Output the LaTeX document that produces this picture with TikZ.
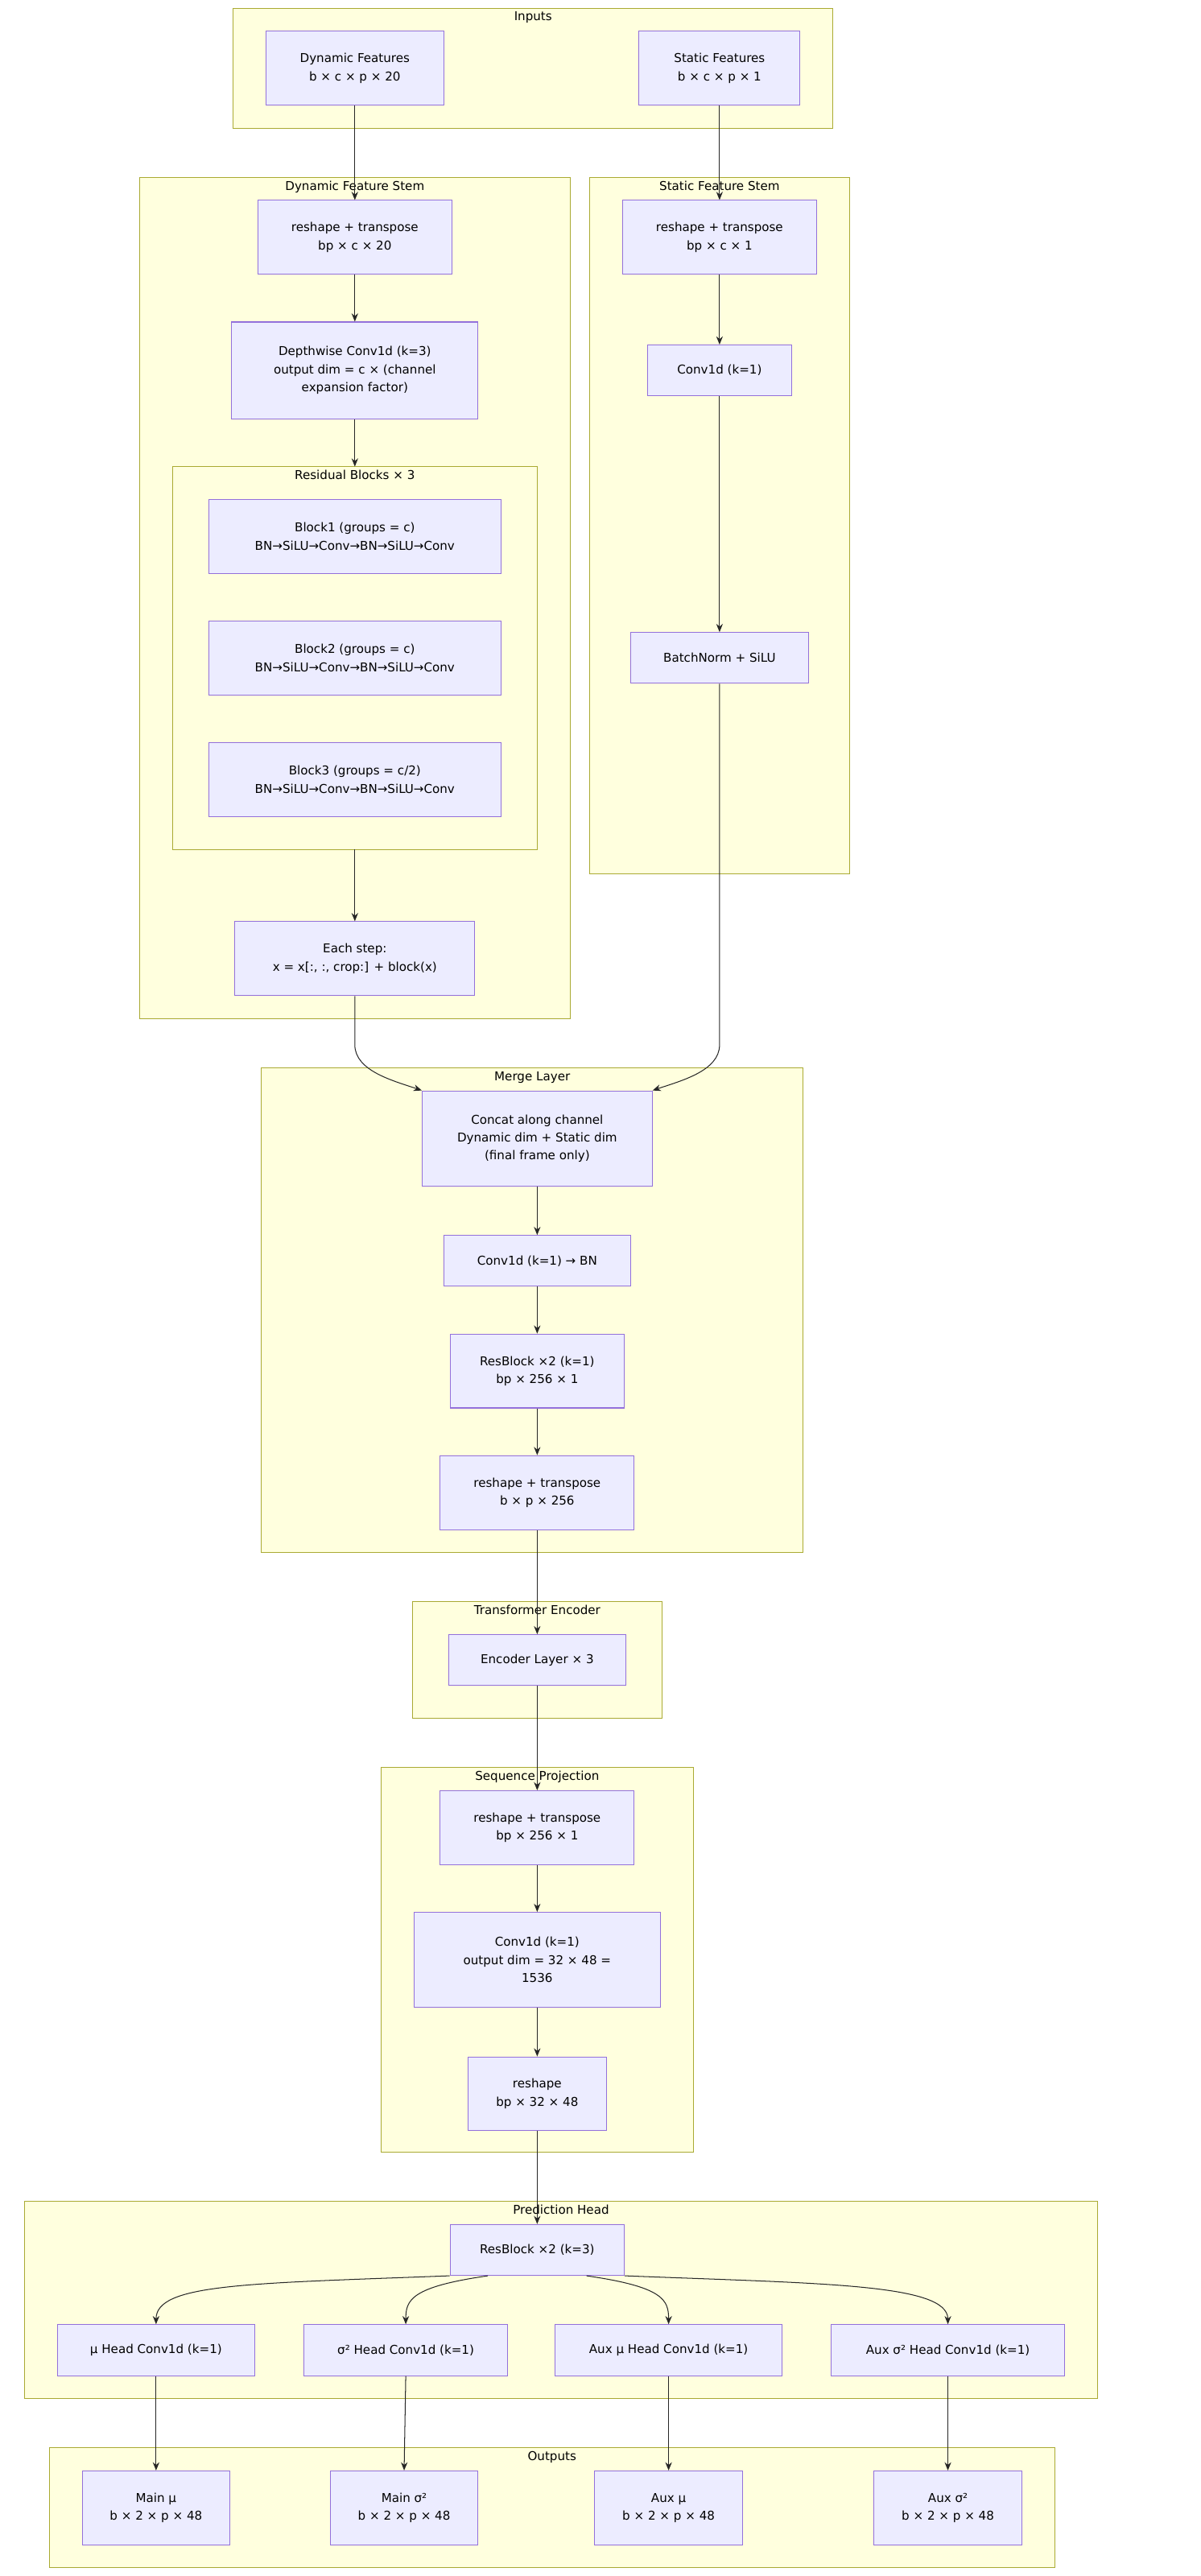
\documentclass[tikz,border=0pt]{standalone}
\usepackage{fontspec}
\setmainfont{DejaVu Sans}
\usetikzlibrary{arrows.meta}
\definecolor{nf}{HTML}{ECECFF}\definecolor{nd}{HTML}{9370DB}
\definecolor{cf}{HTML}{FFFFDE}\definecolor{cd}{HTML}{AAAA33}
\begin{document}
\begin{tikzpicture}[x=1pt,y=-1pt,font=\fontsize{7.4}{11}\selectfont,
 box/.style={draw=nd,fill=nf,line width=0.5pt,align=center,inner sep=2pt,minimum height=31pt},
 clu/.style={draw=cd,fill=cf,line width=0.5pt},
 ctitle/.style={inner sep=0pt,anchor=north},
 ar/.style={-{Stealth[length=5pt,width=4pt]},line width=0.5pt,draw=black!85}]
\useasboundingbox (0,0) rectangle (730.7,1568);
% clusters
\newcommand{\clus}[6]{\draw[clu] (#1,#2) rectangle (#3,#4); \node[ctitle] (#5) at ({(#1+#3)/2},#2+2) {#6};}
\clus{142}{5}{507}{78}{tin}{Inputs}
\clus{85}{108}{347}{620}{tdyn}{Dynamic Feature Stem}
\clus{105}{284}{327}{517}{tres}{Residual Blocks × 3}
\clus{359}{108}{517}{532}{tsta}{Static Feature Stem}
\clus{159}{650}{489}{945}{tmer}{Merge Layer}
\clus{251}{975}{403}{1046}{ttr}{Transformer Encoder}
\clus{232}{1076}{422}{1310}{tsp}{Sequence Projection}
\clus{15}{1340}{668}{1460}{tph}{Prediction Head}
\clus{30}{1490}{642}{1563}{tout}{Outputs}
% nodes
\node[box,minimum width=108pt,minimum height=45pt] (df) at (216,41.5) {Dynamic Features\\b × c × p × 20};
\node[box,minimum width=98pt,minimum height=45pt] (sf) at (438,41.5) {Static Features\\b × c × p × 1};
\node[box,minimum width=118pt,minimum height=45pt] (r1) at (216,144.5) {reshape + transpose\\bp × c × 20};
\node[box,minimum width=150pt,minimum height=59pt] (dw) at (216,225.5) {Depthwise Conv1d (k=3)\\output dim = c × (channel\\expansion factor)};
\node[box,minimum width=178pt,minimum height=45pt] (b1) at (216,326.5) {Block1 (groups = c)\\BN→SiLU→Conv→BN→SiLU→Conv};
\node[box,minimum width=178pt,minimum height=45pt] (b2) at (216,400.5) {Block2 (groups = c)\\BN→SiLU→Conv→BN→SiLU→Conv};
\node[box,minimum width=178pt,minimum height=45pt] (b3) at (216,474.5) {Block3 (groups = c/2)\\BN→SiLU→Conv→BN→SiLU→Conv};
\node[box,minimum width=146pt,minimum height=45pt] (es) at (216,583.5) {Each step:\\x = x[:, :, crop:] + block(x)};
\node[box,minimum width=118pt,minimum height=45pt] (r2) at (438,144.5) {reshape + transpose\\bp × c × 1};
\node[box,minimum width=88pt] (c1) at (438,225.5) {Conv1d (k=1)};
\node[box,minimum width=108pt] (bn) at (438,400.5) {BatchNorm + SiLU};
\node[box,minimum width=140pt,minimum height=58pt] (cc) at (327,693) {Concat along channel\\Dynamic dim + Static dim\\(final frame only)};
\node[box,minimum width=114pt] (cb) at (327,767.5) {Conv1d (k=1) → BN};
\node[box,minimum width=106pt,minimum height=45pt] (rb) at (327,834.5) {ResBlock ×2 (k=1)\\bp × 256 × 1};
\node[box,minimum width=118pt,minimum height=45pt] (r3) at (327,908.5) {reshape + transpose\\b × p × 256};
\node[box,minimum width=108pt] (enc) at (327,1010.5) {Encoder Layer × 3};
\node[box,minimum width=118pt,minimum height=45pt] (r4) at (327,1112.5) {reshape + transpose\\bp × 256 × 1};
\node[box,minimum width=150pt,minimum height=58pt] (cp) at (327,1193) {Conv1d (k=1)\\output dim = 32 × 48 =\\1536};
\node[box,minimum width=84pt,minimum height=45pt] (r5) at (327,1274.5) {reshape\\bp × 32 × 48};
\node[box,minimum width=106pt] (rk) at (327,1369.5) {ResBlock ×2 (k=3)};
\node[box,minimum width=120pt] (h1) at (95,1430.5) {μ Head Conv1d (k=1)};
\node[box,minimum width=124pt] (h2) at (247,1430.5) {σ² Head Conv1d (k=1)};
\node[box,minimum width=138pt] (h3) at (407,1430.5) {Aux μ Head Conv1d (k=1)};
\node[box,minimum width=142pt] (h4) at (577,1430.5) {Aux σ² Head Conv1d (k=1)};
\node[box,minimum width=90pt,minimum height=45pt] (o1) at (95,1526.5) {Main μ\\b × 2 × p × 48};
\node[box,minimum width=90pt,minimum height=45pt] (o2) at (246,1526.5) {Main σ²\\b × 2 × p × 48};
\node[box,minimum width=90pt,minimum height=45pt] (o3) at (407,1526.5) {Aux μ\\b × 2 × p × 48};
\node[box,minimum width=90pt,minimum height=45pt] (o4) at (577,1526.5) {Aux σ²\\b × 2 × p × 48};
% edges
\draw[ar] (df) -- (r1);
\draw[ar] (r1) -- (dw);
\draw[ar] (dw.south) -- (216,284);
\draw[ar] (216,517) -- (es.north);
\draw[ar] (sf) -- (r2);
\draw[ar] (r2) -- (c1);
\draw[ar] (c1) -- (bn);
\draw[ar] (es.south) -- (216,636) .. controls (216,652) and (240,658) .. (cc.north west);
\draw[ar] (bn.south) -- (438,636) .. controls (438,652) and (414,658) .. (cc.north east);
\draw[ar] (cc) -- (cb);
\draw[ar] (cb) -- (rb);
\draw[ar] (rb) -- (r3);
\draw[ar] (r3) -- (enc);
\draw[ar] (enc) -- (r4);
\draw[ar] (r4) -- (cp);
\draw[ar] (cp) -- (r5);
\draw[ar] (r5) -- (rk);
\draw[ar] (rk.south west) .. controls (150,1390) and (95,1390) .. (h1.north);
\draw[ar] (rk.south) ++(-30,0) .. controls (250,1392) and (247,1400) .. (h2.north);
\draw[ar] (rk.south) ++(30,0) .. controls (404,1392) and (407,1400) .. (h3.north);
\draw[ar] (rk.south east) .. controls (500,1390) and (577,1390) .. (h4.north);
\draw[ar] (h1) -- (o1);
\draw[ar] (h2.south) -- (o2.north);
\draw[ar] (h3) -- (o3);
\draw[ar] (h4) -- (o4);
\end{tikzpicture}
\end{document}
